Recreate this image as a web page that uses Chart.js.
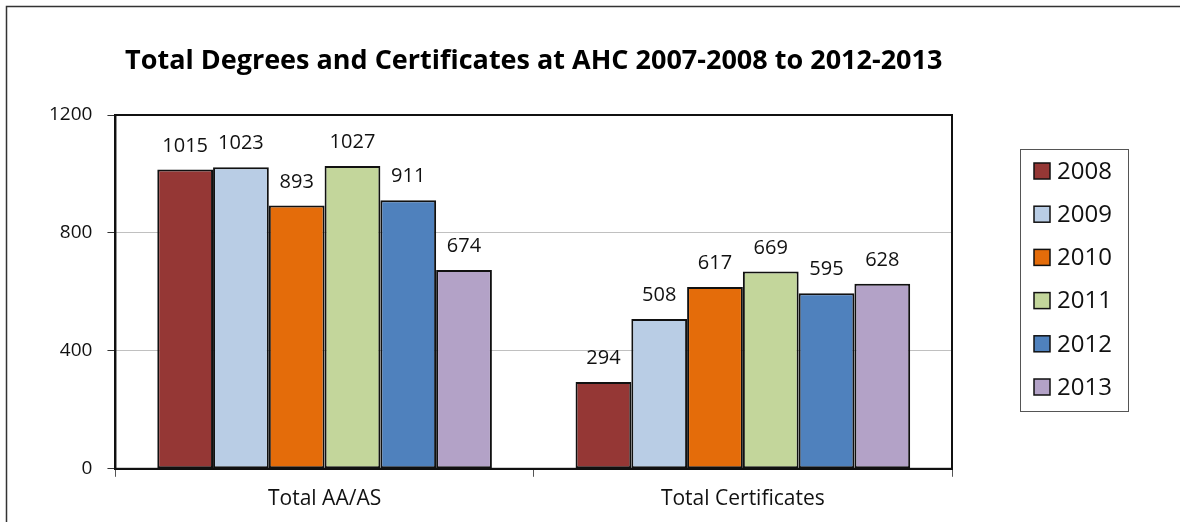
<!DOCTYPE html>
<html>
<head>
<meta charset="utf-8">
<script src="https://cdn.jsdelivr.net/npm/chart.js@4"></script>
<style>
  html, body { margin: 0; padding: 0; background: #fff; }
  #wrap { width: 1180px; height: 522px; }
</style>
</head>
<body>
<div id="wrap"><canvas id="chart" width="1180" height="522"></canvas></div>
<script>
// data
var categories = ['Total AA/AS', 'Total Certificates'];
var years = ['2008', '2009', '2010', '2011', '2012', '2013'];
var totalAAAS = [1015, 1023, 893, 1027, 911, 674];
var totalCerts = [294, 508, 617, 669, 595, 628];
var yTicks = [0, 400, 800, 1200];
var colors = ['#953735', '#B9CDE5', '#E46C0A', '#C3D69B', '#4F81BD', '#B3A2C7'];
var titleText = 'Total Degrees and Certificates at AHC 2007-2008 to 2012-2013';

var FONT = "'Open Sans', 'Noto Sans', sans-serif";

var datasets = years.map(function (yr, i) {
  return {
    label: yr,
    data: [totalAAAS[i], totalCerts[i]],
    backgroundColor: colors[i],
    borderColor: '#111',
    borderWidth: 2,
    borderSkipped: false,
    barPercentage: 1.0,
    categoryPercentage: 0.8
  };
});

// white background and the frame round the chart (top and left edges)
var framePlugin = {
  id: 'frame',
  beforeDraw: function (chart) {
    var ctx = chart.ctx;
    ctx.save();
    ctx.fillStyle = '#fff';
    ctx.fillRect(0, 0, chart.width, chart.height);
    ctx.strokeStyle = '#333';
    ctx.lineWidth = 1.5;
    ctx.beginPath();
    ctx.moveTo(6.5, chart.height);
    ctx.lineTo(6.5, 6.5);
    ctx.lineTo(chart.width, 6.5);
    ctx.stroke();
    ctx.restore();
  }
};

var plotPlugin = {
  id: 'plotExtras',
  afterDatasetsDraw: function (chart) {
    var ctx = chart.ctx, a = chart.chartArea;
    ctx.save();
    // border of the plot area
    ctx.strokeStyle = '#111';
    ctx.lineWidth = 2;
    ctx.strokeRect(a.left, a.top, a.right - a.left, a.bottom - a.top);

    // value labels
    ctx.fillStyle = '#111';
    ctx.font = '20px ' + FONT;
    ctx.textAlign = 'center';
    ctx.textBaseline = 'alphabetic';
    chart.data.datasets.forEach(function (ds, di) {
      chart.getDatasetMeta(di).data.forEach(function (bar, j) {
        ctx.fillText(String(ds.data[j]), bar.x, bar.y - 18);
      });
    });
    ctx.restore();
  },
  afterDraw: function (chart) {
    var ctx = chart.ctx, a = chart.chartArea;
    ctx.save();
    // title, centred over the plot area
    ctx.fillStyle = '#000';
    ctx.font = 'bold 27px ' + FONT;
    ctx.textAlign = 'center';
    ctx.textBaseline = 'middle';
    ctx.fillText(titleText, (a.left + a.right) / 2, a.top - 54);

    // legend box to the right of the plot
    var x0 = a.right + 68, y0 = a.top + 34, w = 108, h = 262;
    ctx.fillStyle = '#fff';
    ctx.fillRect(x0, y0, w, h);
    ctx.strokeStyle = '#555';
    ctx.lineWidth = 1;
    ctx.strokeRect(x0 + 0.5, y0 + 0.5, w, h);
    ctx.font = '24px ' + FONT;
    ctx.textBaseline = 'middle';
    ctx.textAlign = 'left';
    years.forEach(function (yr, i) {
      var cy = y0 + 22 + i * 43.2;
      ctx.fillStyle = colors[i];
      ctx.fillRect(x0 + 14, cy - 8, 16, 16);
      ctx.strokeStyle = '#111';
      ctx.lineWidth = 1.5;
      ctx.strokeRect(x0 + 14, cy - 8, 16, 16);
      ctx.fillStyle = '#111';
      ctx.fillText(yr, x0 + 37, cy + 1);
    });
    ctx.restore();
  }
};

new Chart(document.getElementById('chart'), {
  type: 'bar',
  data: { labels: categories, datasets: datasets },
  plugins: [framePlugin, plotPlugin],
  options: {
    responsive: false,
    animation: false,
    layout: { padding: { left: 34, right: 228, top: 115, bottom: 0 } },
    plugins: {
      legend: { display: false },
      tooltip: { enabled: false },
      title: { display: false }
    },
    scales: {
      x: {
        grid: {
          offset: true,
          drawOnChartArea: false,
          drawTicks: true,
          tickLength: 8,
          tickColor: '#555'
        },
        border: { color: '#111', width: 2 },
        ticks: { color: '#111', font: { family: FONT, size: 21 }, padding: 10 }
      },
      y: {
        min: 0,
        max: 1200,
        afterBuildTicks: function (scale) {
          scale.ticks = yTicks.map(function (v) { return { value: v }; });
        },
        grid: {
          color: '#c0c0c0',
          tickColor: '#333',
          tickLength: 8,
          lineWidth: 1
        },
        border: { color: '#111', width: 2 },
        ticks: {
          color: '#111',
          font: { family: FONT, size: 19 },
          padding: 15,
          callback: function (v) { return String(v); }
        }
      }
    }
  }
});
</script>
</body>
</html>
